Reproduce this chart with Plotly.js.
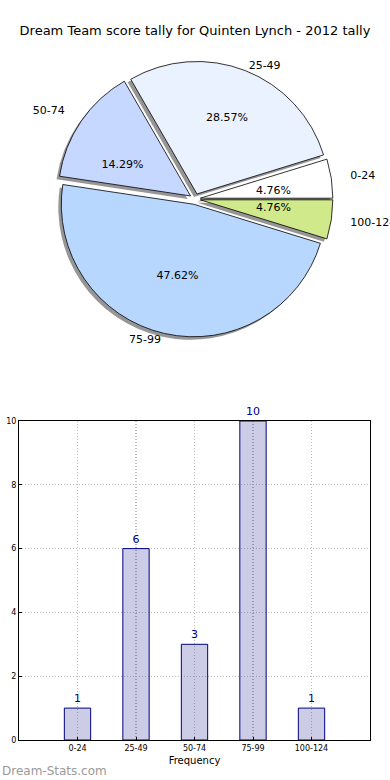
<!DOCTYPE html>
<html>
<head>
<meta charset="utf-8">
<script src="https://cdn.plot.ly/plotly-3.0.1.min.js"></script>
<style>html,body{margin:0;padding:0;background:#fff}#chart{width:390px;height:780px}</style>
</head>
<body>
<div id="chart"></div>
<script>
const categories = ["0-24", "25-49", "50-74", "75-99", "100-124"];
const counts = [1, 6, 3, 10, 1];
const sliceColors = ["#ffffff", "#eaf1ff", "#c6d8ff", "#b7d7ff", "#cfe98b"];
const yTicks = [0, 2, 4, 6, 8, 10];
const titleText = "Dream Team score tally for Quinten Lynch - 2012 tally";

const FONT = "DejaVu Sans, sans-serif";
const W = 390, H = 780;
const pcx = 195, pcy = 199;     // pie centre in pixels
const R = 132.5;                // main radius in px
const explodePx = 5.4;          // explode offset in px

// start the first slice at 3 o'clock, going counterclockwise (matplotlib style)
const total = counts.reduce((a, b) => a + b, 0);
const rot = 90 - 360 * counts[0] / total;
const PCT = "%{percent:.2%}";
// wide slices have their mid-angle near the vertical; narrow ones near the horizontal
const wideSlice = counts.map(v => v / total > 0.2);

function dom(r, dx, dy) {
  const pull = explodePx / r;
  const half = r * (1 + pull);
  return {
    pull: pull,
    x: [(pcx + dx - half) / W, (pcx + dx + half) / W],
    y: [1 - (pcy + dy + half) / H, 1 - (pcy + dy - half) / H]
  };
}

function pie(r, dx, dy, extra) {
  const d = dom(r, dx, dy);
  return Object.assign({
    type: "pie", labels: categories, values: counts, sort: false,
    direction: "counterclockwise", rotation: rot,
    pull: categories.map(() => d.pull),
    domain: {x: d.x, y: d.y},
    hoverinfo: "skip", showlegend: false
  }, extra);
}
const clear = {colors: categories.map(() => "rgba(0,0,0,0)"), line: {width: 0}};
const txtFont = {family: FONT, size: 11, color: "#000"};

const shadow = pie(R, -3, 3, {
  marker: {colors: categories.map(() => "rgba(80,80,80,0.6)"), line: {width: 0}},
  textinfo: "none"
});
const main = pie(R, 0, 0, {
  marker: {colors: sliceColors, line: {color: "#000", width: 0.8}},
  textinfo: "none"
});
const pctWide = pie(R * 1.1, 0, 0, {
  marker: clear,
  texttemplate: wideSlice.map(w => w ? PCT : ""), textposition: "inside",
  insidetextorientation: "horizontal", insidetextfont: txtFont
});
const pctNarrow = pie(R * 0.4, 0, 0, {
  marker: clear,
  texttemplate: wideSlice.map(w => w ? "" : PCT), textposition: "outside",
  outsidetextfont: txtFont
});
const lblVert = pie(R * 1.0, 0, 0, {
  marker: clear,
  texttemplate: wideSlice.map(w => w ? "%{label}" : ""), textposition: "outside",
  outsidetextfont: txtFont
});
const lblHoriz = pie(R * 1.12, 0, 0, {
  marker: clear,
  texttemplate: wideSlice.map(w => w ? "" : "%{label}"), textposition: "outside",
  outsidetextfont: txtFont
});

const bars = {
  type: "bar", x: categories, y: counts, xaxis: "x", yaxis: "y",
  width: 0.45, text: counts.map(String), textposition: "outside", cliponaxis: false,
  textfont: {family: FONT, size: 11, color: "#00008b"},
  marker: {color: "rgba(0,0,128,0.2)", line: {color: "#000080", width: 1}},
  hoverinfo: "skip", showlegend: false
};

const gridStyle = {showgrid: true, gridcolor: "#bdbdbd", griddash: "1px,2px", gridwidth: 1.2};

const layout = {
  width: W, height: H, margin: {l: 0, r: 0, t: 0, b: 0},
  paper_bgcolor: "#fff", plot_bgcolor: "#fff",
  font: {family: FONT, color: "#000"},
  title: {text: titleText, x: 0.5, xanchor: "center", y: 1 - 30 / H, yanchor: "middle",
          font: {family: FONT, size: 13, color: "#000"}},
  xaxis: Object.assign({domain: [19 / W, 370 / W], range: [-1, 5], type: "category",
          showline: true, mirror: true, linecolor: "#000", linewidth: 1,
          ticks: "inside", ticklen: 3, tickcolor: "#000",
          tickfont: {family: FONT, size: 8, color: "#000"},
          title: {text: "Frequency", font: {family: FONT, size: 10, color: "#000"}, standoff: 5},
          automargin: false, fixedrange: true}, gridStyle),
  yaxis: Object.assign({domain: [1 - 740 / H, 1 - 421 / H], range: [0, 10], tickvals: yTicks,
          showline: true, mirror: true, linecolor: "#000", linewidth: 1, zeroline: false,
          ticks: "inside", ticklen: 3, tickcolor: "#000",
          tickfont: {family: FONT, size: 8, color: "#000"},
          automargin: false, fixedrange: true}, gridStyle),
  annotations: [
    {text: "Dream-Stats.com", xref: "paper", yref: "paper", x: 0, y: 1 - 771 / H,
     xanchor: "left", yanchor: "middle", showarrow: false,
     font: {family: FONT, size: 12, color: "#9a9a9a"}},
    {text: "Distribution", xref: "paper", yref: "paper", x: -5 / W, y: 1 - 570 / H,
     xanchor: "center", yanchor: "middle", textangle: -90, showarrow: false,
     font: {family: FONT, size: 10, color: "#000"}}
  ]
};

Plotly.newPlot("chart", [shadow, main, pctWide, pctNarrow, lblVert, lblHoriz, bars], layout, {displayModeBar: false, staticPlot: true});
</script>
</body>
</html>
